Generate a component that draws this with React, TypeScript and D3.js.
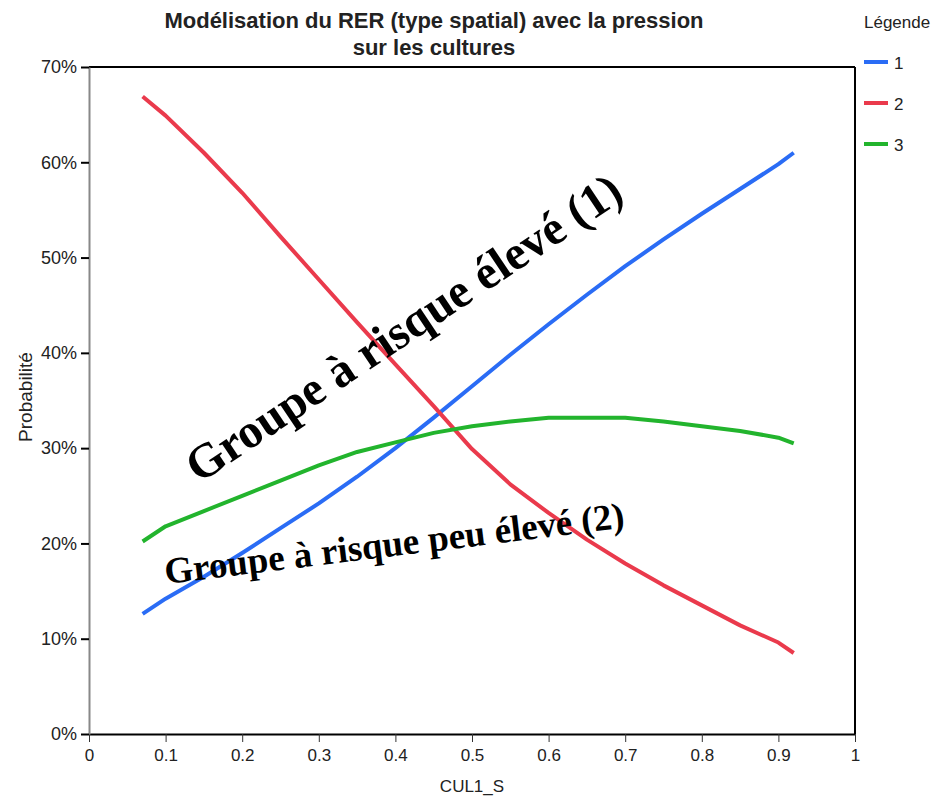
import React, { useEffect, useRef } from 'react';
import * as d3 from 'd3';

const WIDTH = 933;
const HEIGHT = 801;

const MARGIN = { top: 67, right: 78, bottom: 67, left: 89 };

const xValues = [0.07, 0.1, 0.15, 0.2, 0.25, 0.3, 0.35, 0.4, 0.45, 0.5, 0.55, 0.6, 0.65, 0.7, 0.75, 0.8, 0.85, 0.9, 0.92];
const group1 = [12.6, 14.2, 16.5, 19.0, 21.6, 24.2, 27.0, 30.0, 33.2, 36.5, 39.8, 43.0, 46.1, 49.1, 51.9, 54.6, 57.2, 59.8, 61.0];
const group2 = [66.9, 64.9, 61.0, 56.8, 52.2, 47.7, 43.2, 38.8, 34.4, 29.9, 26.2, 23.2, 20.4, 17.9, 15.6, 13.5, 11.4, 9.6, 8.5];
const group3 = [20.2, 21.8, 23.4, 25.0, 26.6, 28.2, 29.6, 30.6, 31.6, 32.3, 32.8, 33.2, 33.2, 33.2, 32.8, 32.3, 31.8, 31.1, 30.5];

const seriesNames = ['1', '2', '3'];
const seriesColors = ['#2a6cf5', '#ea3a4c', '#22b42d'];
const xTicks = [0, 0.1, 0.2, 0.3, 0.4, 0.5, 0.6, 0.7, 0.8, 0.9, 1];
const yTicks = [0, 10, 20, 30, 40, 50, 60, 70];

const SANS = "'Liberation Sans', Arial, sans-serif";
const SERIF = "'Liberation Serif', 'Times New Roman', serif";

export default function App() {
  const ref = useRef<SVGSVGElement>(null);

  useEffect(() => {
    const svg = d3.select(ref.current);
    svg.selectAll('*').remove();

    const x = d3.scaleLinear().domain([0, 1]).range([MARGIN.left, WIDTH - MARGIN.right]);
    const y = d3.scaleLinear().domain([0, 70]).range([HEIGHT - MARGIN.bottom, MARGIN.top]);

    // frame (top and right)
    svg.append('line')
      .attr('x1', x(0)).attr('x2', x(1)).attr('y1', y(70)).attr('y2', y(70))
      .attr('stroke', '#000').attr('stroke-width', 2);
    svg.append('line')
      .attr('x1', x(1)).attr('x2', x(1)).attr('y1', y(70)).attr('y2', y(0))
      .attr('stroke', '#000').attr('stroke-width', 2);

    const xAxis = svg.append('g')
      .attr('transform', `translate(0, ${y(0)})`)
      .call(d3.axisBottom(x).tickValues(xTicks).tickFormat(d => d3.format('')(d as number)).tickSize(8).tickPadding(7).tickSizeOuter(0));
    xAxis.select('.domain').attr('stroke', '#000').attr('stroke-width', 2);
    xAxis.selectAll('.tick line').attr('stroke', '#333');
    xAxis.selectAll('text').attr('font-family', SANS).attr('font-size', 17).attr('fill', '#222');

    const yAxis = svg.append('g')
      .attr('transform', `translate(${x(0)}, 0)`)
      .call(d3.axisLeft(y).tickValues(yTicks).tickFormat(d => `${d}%`).tickSize(8).tickPadding(4).tickSizeOuter(0));
    yAxis.select('.domain').attr('stroke', '#888').attr('stroke-width', 2);
    yAxis.selectAll('.tick line').attr('stroke', '#000').attr('stroke-width', 2);
    yAxis.selectAll('text').attr('font-family', SANS).attr('font-size', 18).attr('fill', '#222');

    // lines
    const line = d3.line<number>()
      .x((_, i) => x(xValues[i]))
      .y(d => y(d));

    [group1, group2, group3].forEach((values, i) => {
      svg.append('path')
        .attr('d', line(values))
        .attr('fill', 'none')
        .attr('stroke', seriesColors[i])
        .attr('stroke-width', 4)
        .attr('stroke-linejoin', 'round');
    });

    // title
    const title = svg.append('text')
      .attr('text-anchor', 'middle')
      .attr('font-family', SANS)
      .attr('font-weight', 'bold')
      .attr('font-size', 22)
      .attr('fill', '#222');
    title.append('tspan').attr('x', 434).attr('y', 28).text('Modélisation du RER (type spatial) avec la pression');
    title.append('tspan').attr('x', 434).attr('y', 55).text('sur les cultures');

    // axis titles
    svg.append('text')
      .attr('x', x(0.5)).attr('y', 792)
      .attr('text-anchor', 'middle')
      .attr('font-family', SANS).attr('font-size', 17).attr('fill', '#222')
      .text('CUL1_S');
    svg.append('text')
      .attr('transform', `translate(32, 397) rotate(-90)`)
      .attr('text-anchor', 'middle')
      .attr('font-family', SANS).attr('font-size', 19).attr('fill', '#222')
      .text('Probabilité');

    // legend
    svg.append('text')
      .attr('x', 864).attr('y', 28)
      .attr('font-family', SANS).attr('font-size', 17).attr('fill', '#222')
      .text('Légende');
    seriesNames.forEach((name, i) => {
      const ly = 62 + i * 41;
      svg.append('line')
        .attr('x1', 864).attr('x2', 888).attr('y1', ly).attr('y2', ly)
        .attr('stroke', seriesColors[i]).attr('stroke-width', 4);
      svg.append('text')
        .attr('x', 894).attr('y', ly + 7)
        .attr('font-family', SANS).attr('font-size', 17).attr('fill', '#222')
        .text(name);
    });

    // annotations
    svg.append('text')
      .attr('transform', 'translate(199, 484) rotate(-33.8)')
      .attr('font-family', SERIF).attr('font-weight', 'bold').attr('font-size', 48)
      .attr('fill', '#000')
      .text('Groupe à risque élevé (1)');
    svg.append('text')
      .attr('transform', 'translate(166, 584) rotate(-7)')
      .attr('font-family', SERIF).attr('font-weight', 'bold').attr('font-size', 37)
      .attr('fill', '#000')
      .text('Groupe à risque peu élevé (2)');
  }, []);

  return (
    <svg
      ref={ref}
      width={WIDTH}
      height={HEIGHT}
      viewBox={`0 0 ${WIDTH} ${HEIGHT}`}
      style={{ position: 'absolute', left: 0, top: 0, background: '#fff' }}
    />
  );
}
